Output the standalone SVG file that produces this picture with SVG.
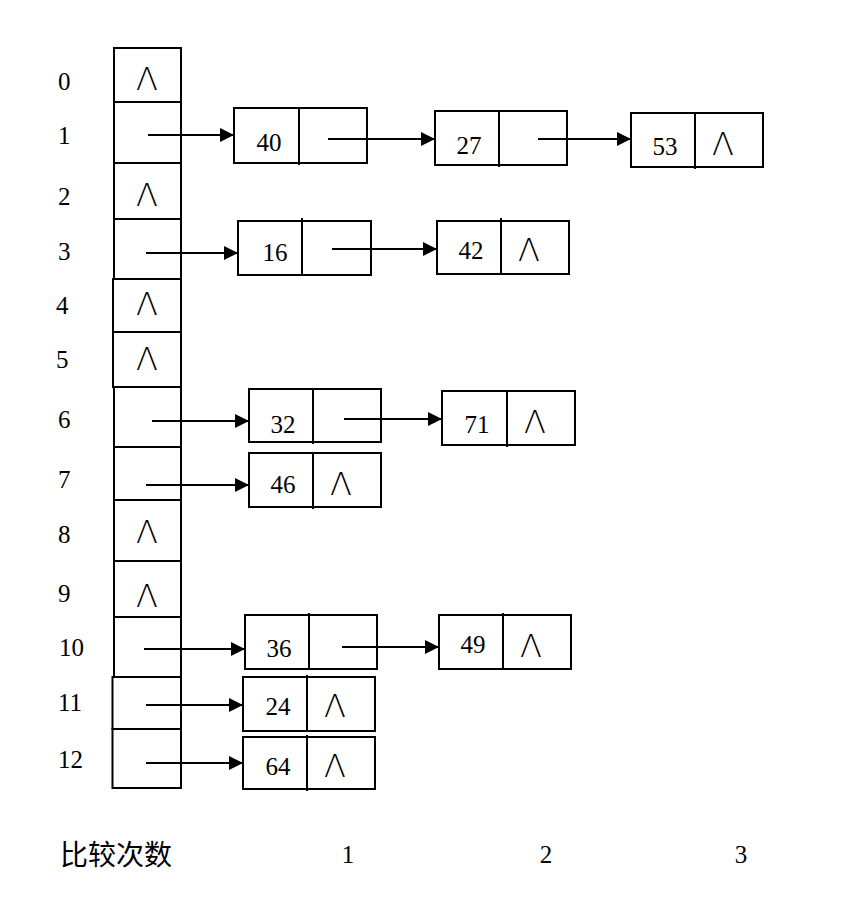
<svg xmlns="http://www.w3.org/2000/svg" width="856" height="902" viewBox="0 0 856 902">
<style>
.box{fill:#fff;stroke:#000;stroke-width:2}
.ln{stroke:#000;stroke-width:2;fill:none}
.num{font-family:"Liberation Serif",serif;font-size:25px;fill:#000}
.mid{text-anchor:middle}
.nul{font-family:"DejaVu Sans",sans-serif;font-weight:200;font-size:32px;fill:#000;text-anchor:middle}
.cjk{font-family:"Liberation Serif","Noto Sans CJK SC",sans-serif;font-size:28px;fill:#000}
</style>
<defs>
<marker id="ah" markerUnits="userSpaceOnUse" markerWidth="14" markerHeight="14" viewBox="0 0 14 14" refX="14" refY="7" orient="auto">
<path d="M0,0 L14,7 L0,14 Z" fill="#000"/>
</marker>
</defs>
<rect width="856" height="902" fill="#fff"/>

<g id="labels">
<text class="num" x="58" y="90">0</text>
<text class="num" x="58" y="144">1</text>
<text class="num" x="58" y="205">2</text>
<text class="num" x="58" y="260">3</text>
<text class="num" x="56" y="314">4</text>
<text class="num" x="56" y="368">5</text>
<text class="num" x="58" y="428">6</text>
<text class="num" x="58" y="488">7</text>
<text class="num" x="58" y="543">8</text>
<text class="num" x="58" y="602">9</text>
<text class="num" x="59" y="656">10</text>
<text class="num" x="58" y="711">11</text>
<text class="num" x="58" y="768">12</text>
</g>

<g id="table">
<g id="cell0"><rect class="box" x="114" y="48" width="67" height="54"/><text class="nul" x="147" y="90">Λ</text></g>
<g id="cell1"><rect class="box" x="114" y="102" width="67" height="61"/></g>
<g id="cell2"><rect class="box" x="114" y="163" width="67" height="56"/><text class="nul" x="147" y="206">Λ</text></g>
<g id="cell3"><rect class="box" x="114" y="219" width="67" height="60"/></g>
<g id="cell4"><rect class="box" x="113" y="279" width="68" height="53"/><text class="nul" x="147" y="315">Λ</text></g>
<g id="cell5"><rect class="box" x="113" y="332" width="68" height="55"/><text class="nul" x="147" y="370">Λ</text></g>
<g id="cell6"><rect class="box" x="114" y="387" width="67" height="60"/></g>
<g id="cell7"><rect class="box" x="114" y="447" width="67" height="53"/></g>
<g id="cell8"><rect class="box" x="114" y="500" width="67" height="61"/><text class="nul" x="147" y="543">Λ</text></g>
<g id="cell9"><rect class="box" x="114" y="561" width="67" height="56"/><text class="nul" x="147" y="607">Λ</text></g>
<g id="cell10"><rect class="box" x="114" y="617" width="67" height="60"/></g>
<g id="cell11"><rect class="box" x="112.5" y="677" width="68.5" height="52"/></g>
<g id="cell12"><rect class="box" x="112.5" y="729" width="68.5" height="59"/></g>
</g>

<g id="node40"><rect class="box" x="234" y="108" width="133" height="55"/><line class="ln" x1="299" y1="108" x2="299" y2="165"/><text class="num mid" x="269" y="151">40</text></g>
<g id="node27"><rect class="box" x="435" y="111" width="132" height="54"/><line class="ln" x1="499" y1="111" x2="499" y2="167"/><text class="num mid" x="469" y="154">27</text></g>
<g id="node53"><rect class="box" x="631" y="113" width="132" height="54"/><line class="ln" x1="695" y1="113" x2="695" y2="169"/><text class="num mid" x="665" y="155">53</text><text class="nul" x="723" y="155">Λ</text></g>
<g id="node16"><rect class="box" x="238" y="221" width="133" height="54"/><line class="ln" x1="302" y1="218" x2="302" y2="275"/><text class="num mid" x="275" y="261">16</text></g>
<g id="node42"><rect class="box" x="437" y="221" width="132" height="53"/><line class="ln" x1="501" y1="218" x2="501" y2="274"/><text class="num mid" x="471" y="259">42</text><text class="nul" x="529" y="261">Λ</text></g>
<g id="node32"><rect class="box" x="249" y="389" width="132" height="53"/><line class="ln" x1="313" y1="389" x2="313" y2="444"/><text class="num mid" x="283" y="433">32</text></g>
<g id="node71"><rect class="box" x="442" y="391" width="133" height="54"/><line class="ln" x1="507" y1="391" x2="507" y2="447"/><text class="num mid" x="477" y="433">71</text><text class="nul" x="535" y="433">Λ</text></g>
<g id="node46"><rect class="box" x="249" y="453" width="132" height="54"/><line class="ln" x1="313" y1="453" x2="313" y2="509"/><text class="num mid" x="283" y="493">46</text><text class="nul" x="341" y="495">Λ</text></g>
<g id="node36"><rect class="box" x="245" y="615" width="132" height="54"/><line class="ln" x1="309" y1="613" x2="309" y2="669"/><text class="num mid" x="279" y="657">36</text></g>
<g id="node49"><rect class="box" x="439" y="615" width="132" height="54"/><line class="ln" x1="503" y1="613" x2="503" y2="669"/><text class="num mid" x="473" y="653">49</text><text class="nul" x="531" y="657">Λ</text></g>
<g id="node24"><rect class="box" x="243" y="677" width="132" height="54"/><line class="ln" x1="307" y1="675" x2="307" y2="731"/><text class="num mid" x="278" y="715">24</text><text class="nul" x="335" y="717">Λ</text></g>
<g id="node64"><rect class="box" x="243" y="737" width="132" height="52"/><line class="ln" x1="307" y1="735" x2="307" y2="791"/><text class="num mid" x="278" y="775">64</text><text class="nul" x="335" y="777">Λ</text></g>

<g id="connectors">
<line class="ln" x1="148" y1="135" x2="234" y2="135" marker-end="url(#ah)"/>
<line class="ln" x1="328" y1="139" x2="435" y2="139" marker-end="url(#ah)"/>
<line class="ln" x1="538" y1="139" x2="631" y2="139" marker-end="url(#ah)"/>
<line class="ln" x1="146" y1="253" x2="238" y2="253" marker-end="url(#ah)"/>
<line class="ln" x1="332" y1="249" x2="437" y2="249" marker-end="url(#ah)"/>
<line class="ln" x1="152" y1="421" x2="249" y2="421" marker-end="url(#ah)"/>
<line class="ln" x1="344" y1="419" x2="442" y2="419" marker-end="url(#ah)"/>
<line class="ln" x1="146" y1="485" x2="249" y2="485" marker-end="url(#ah)"/>
<line class="ln" x1="144" y1="649" x2="245" y2="649" marker-end="url(#ah)"/>
<line class="ln" x1="342" y1="647" x2="439" y2="647" marker-end="url(#ah)"/>
<line class="ln" x1="146" y1="705" x2="243" y2="705" marker-end="url(#ah)"/>
<line class="ln" x1="146" y1="763" x2="243" y2="763" marker-end="url(#ah)"/>
</g>

<g id="footer">
<text class="cjk" x="60" y="865">比较次数</text>
<text class="num mid" x="348" y="863">1</text>
<text class="num mid" x="546" y="863">2</text>
<text class="num mid" x="741" y="863">3</text>
</g>
</svg>
